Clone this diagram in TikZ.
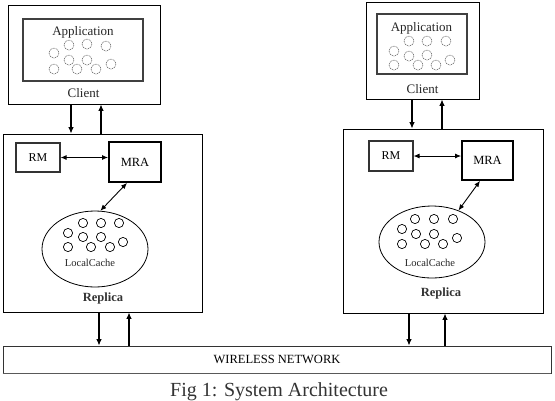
\documentclass[tikz,border=0pt]{standalone}
\usepackage{fontspec}
\setmainfont{Liberation Serif}
\usetikzlibrary{arrows.meta,shapes.geometric}
\begin{document}
\begin{tikzpicture}[x=1pt,y=-1pt,
  box/.style={draw=black,line width=0.9pt,rectangle,inner sep=0pt},
  appbox/.style={draw=black!75,line width=1.4pt,rectangle,inner sep=0pt},
  agent/.style={draw=black,line width=1.8pt,rectangle,inner sep=0pt,font=\fontsize{12.5}{14}\selectfont},
  rmbox/.style={draw=black!80,line width=1.1pt,rectangle,inner sep=0pt,font=\fontsize{12}{14}\selectfont},
  cache/.style={draw=black,line width=0.8pt,ellipse,inner sep=0pt},
  netbox/.style={draw=black!80,line width=0.9pt,rectangle,inner sep=0pt},
  lbl/.style={inner sep=0pt,text=black!85,font=\fontsize{13}{15}\selectfont},
  cachelbl/.style={inner sep=0pt,text=black!85,font=\fontsize{10.5}{12}\selectfont},
  replbl/.style={inner sep=0pt,text=black!80,font=\fontsize{12.5}{14}\selectfont\bfseries},
  arr/.style={line width=1.1pt,-{Latex[length=6.5pt,width=5.5pt]}},
  dbl/.style={line width=0.9pt,{Latex[length=6pt,width=5pt]}-{Latex[length=6pt,width=5pt]}},
  appdot/.style={draw=black!70,line width=0.5pt,dash pattern=on 1pt off 0.8pt},
  cachedot/.style={draw=black,line width=0.7pt}
]
\useasboundingbox (0,0) rectangle (555,400);

% ---- left client ----
\node[box, minimum width=152pt, minimum height=99pt] (c1) at (84,54.5) {};
\node[appbox, minimum width=120pt, minimum height=62pt] (a1) at (83,50) {};
\node[lbl] (a1t) at (83,32.5) {Application};
\node[lbl] (c1t) at (83.5,93) {Client};
\foreach \p in {(69,45),(87,44),(106,46),(54,53),(69,60),(87,60),(111,64),(54,69),(77,69),(96,69)}
  \draw[appdot] \p circle (5);

% ---- right client ----
\node[box, minimum width=113pt, minimum height=97pt] (c2) at (422.5,50.5) {};
\node[appbox, minimum width=90pt, minimum height=60pt] (a2) at (422,44) {};
\node[lbl] (a2t) at (421.5,28) {Application};
\node[lbl] (c2t) at (422.5,89) {Client};
\foreach \p in {(409,41),(427,41),(446,41),(394,51),(409,56),(427,55),(450,60),(394,65),(418,65),(436,65)}
  \draw[appdot] \p circle (5);

% ---- left replica ----
\node[box, minimum width=199pt, minimum height=178pt] (r1) at (102.5,223) {};
\node[rmbox, minimum width=44pt, minimum height=29pt] (rm1) at (38,157.5) {RM};
\node[agent, minimum width=52pt, minimum height=40pt] (mra1) at (135,162) {MRA};
\node[cache, minimum width=106pt, minimum height=76pt] (lc1) at (95,249) {};
\foreach \p in {(83,223),(101,223),(119,223),(68,233),(83,237),(101,237),(123,242),(68,247),(91,247),(110,247)}
  \draw[cachedot] \p circle (4.6);
\node[cachelbl] (lc1t) at (90,263) {LocalCache};
\node[replbl] (r1t) at (103,298) {Replica};

% ---- right replica ----
\node[box, minimum width=200pt, minimum height=184pt] (r2) at (443,221) {};
\node[rmbox, minimum width=44pt, minimum height=30pt] (rm2) at (391,156) {RM};
\node[agent, minimum width=51pt, minimum height=39pt] (mra2) at (487.5,160.5) {MRA};
\node[cache, minimum width=106pt, minimum height=72pt] (lc2) at (432,242) {};
\foreach \p in {(415,219),(434,219),(453,219),(402,229),(416,234),(434,234),(457,238),(402,244),(425,244),(443,244)}
  \draw[cachedot] \p circle (4.6);
\node[cachelbl] (lc2t) at (430,263) {LocalCache};
\node[replbl] (r2t) at (441,293) {Replica};

% ---- network ----
\node[netbox, minimum width=548pt, minimum height=27pt, font=\fontsize{12.5}{14}\selectfont] (net) at (277,359.5) {WIRELESS NETWORK};
\draw[black!65, line width=1.8pt] (net.south west) -- (net.south east);
\node[inner sep=0pt, font=\fontsize{20}{23}\selectfont, text=black!80] (cap) at (279,391.5) {Fig 1: System Architecture};

% ---- client <-> replica ----
\draw[arr] ([xshift=-13pt]c1.south) -- ([xshift=-13pt]c1.south |- r1.north);
\draw[arr] ([xshift=17pt]c1.south |- r1.north) -- ([xshift=17pt]c1.south);
\draw[arr] ([xshift=-10.5pt]c2.south) -- ([xshift=-10.5pt]c2.south |- r2.north);
\draw[arr] ([xshift=19.5pt]c2.south |- r2.north) -- ([xshift=19.5pt]c2.south);

% ---- inside replicas ----
\draw[dbl] (rm1.east) -- (rm1.east -| mra1.west);
\draw[dbl] (rm2.east) -- (rm2.east -| mra2.west);
\draw[dbl] ([xshift=-8pt]mra1.south) -- (lc1.82);
\draw[dbl] ([xshift=-7.5pt]mra2.south) -- (lc2.50);

% ---- replica <-> network ----
\draw[arr] ([xshift=-3.5pt]r1.south) -- ([xshift=-3.5pt]r1.south |- net.north);
\draw[arr] ([xshift=26.5pt]r1.south |- net.north) -- ([xshift=26.5pt]r1.south);
\draw[arr] ([xshift=-34pt]r2.south) -- ([xshift=-34pt]r2.south |- net.north);
\draw[arr] ([xshift=2pt]r2.south |- net.north) -- ([xshift=2pt]r2.south);
\end{tikzpicture}
\end{document}
